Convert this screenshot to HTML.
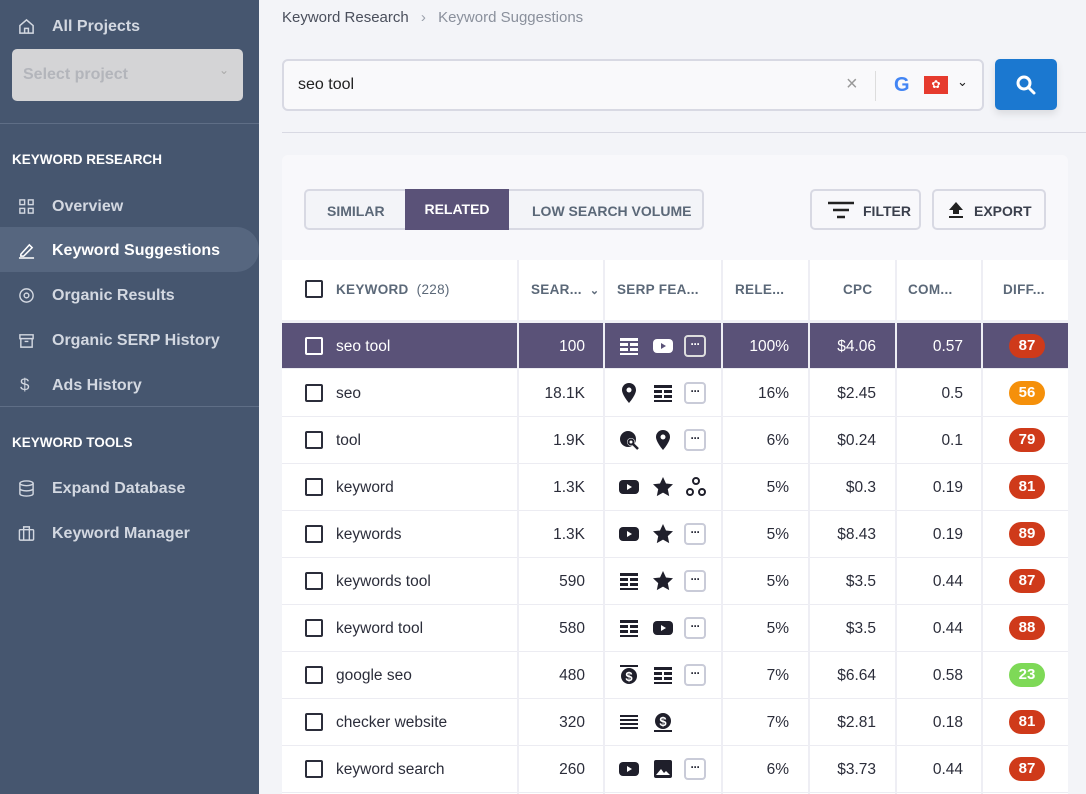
<!DOCTYPE html>
<html><head><meta charset="utf-8"><style>
*{box-sizing:border-box;margin:0;padding:0}
body{width:1086px;height:794px;overflow:hidden;background:#f3f4f8;font-family:"Liberation Sans",sans-serif;position:relative;color:#2b2d3a}
.a{position:absolute}
#sb{left:0;top:0;width:259px;height:794px;background:#46566f;color:#dfe3ea}
.ni{position:absolute;left:52px;font-size:16px;font-weight:bold;color:#d3d8e1;margin-top:2px}
.nic{position:absolute;left:18px;width:17px;height:17px;margin-top:1px}
.sec{position:absolute;left:12px;font-size:13.5px;font-weight:bold;color:#fff;margin-top:1px}
.hd{position:absolute;top:260px;height:60px;line-height:60px;font-size:13.5px;font-weight:bold;color:#5b6878;letter-spacing:.3px}
.vl{position:absolute;width:2px;background:#eeeef4}
.row{position:absolute;left:282px;width:786px;height:47px;background:#fff;border-bottom:1px solid #ececf2;font-size:15.5px}
.row span{position:absolute;top:0;line-height:48px}
.cb{position:absolute;left:23px;top:14px;width:18px;height:18px;border:2px solid #2b2d3a;border-radius:2px}
.kw{left:54px}
.r{text-align:right}
.b{position:absolute;left:727px;top:11px;width:36px;height:24px;border-radius:12px;color:#fff;font-weight:bold;font-size:15px;text-align:center;line-height:24px}
.ic{position:absolute;top:13px;width:20px;height:20px}
.mo{position:absolute;top:12px;left:402px;width:22px;height:22px;border:2px solid #c9cbd8;border-radius:4px;font-size:12px;line-height:14px;text-align:center;font-weight:bold;letter-spacing:-1px}
.sel{background:#5a5278;color:#fff;height:46px}
.sel .cb{border-color:#fff}
</style></head><body>
<div id="sb" class="a">
<svg class="nic" style="top:17px" viewBox="0 0 18 18"><path d="M2 8L9 2l7 6v8H2z M7 16v-5h4v5" fill="none" stroke="#d3d8e1" stroke-width="1.6"/></svg>
<div class="ni" style="top:16px">All Projects</div>
<div class="a" style="left:12px;top:49px;width:231px;height:52px;background:#d4d4d6;border-radius:5px"><span class="a" style="left:11px;top:17px;font-size:16px;font-weight:bold;color:#b3b5bb">Select project</span><span class="a" style="left:207px;top:14px;color:#aaa;font-size:12px">&#8964;</span></div>
<div class="a" style="left:0;top:123px;width:259px;height:1px;background:#5f6e86"></div>
<div class="sec" style="top:151px">KEYWORD RESEARCH</div>
<svg class="nic" style="top:197px" viewBox="0 0 18 18"><g fill="none" stroke="#d3d8e1" stroke-width="1.5"><rect x="2" y="2" width="5" height="5"/><rect x="11" y="2" width="5" height="5"/><rect x="2" y="11" width="5" height="5"/><rect x="11" y="11" width="5" height="5"/></g></svg>
<div class="ni" style="top:196px">Overview</div>
<div class="a" style="left:0;top:227px;width:259px;height:45px;background:#56667f;border-radius:0 23px 23px 0"></div>
<svg class="nic" style="top:241px" viewBox="0 0 18 18"><path d="M3 13L12 3l3 3-9 9H3z M1 17h16" fill="none" stroke="#fff" stroke-width="1.6"/></svg>
<div class="ni" style="top:240px;color:#fff">Keyword Suggestions</div>
<svg class="nic" style="top:286px" viewBox="0 0 18 18"><circle cx="9" cy="9" r="7" fill="none" stroke="#d3d8e1" stroke-width="1.5"/><circle cx="9" cy="9" r="2.5" fill="none" stroke="#d3d8e1" stroke-width="1.5"/></svg>
<div class="ni" style="top:285px">Organic Results</div>
<svg class="nic" style="top:331px" viewBox="0 0 18 18"><path d="M2 3h14v4H2z M3 7v9h12V7 M7 10h4" fill="none" stroke="#d3d8e1" stroke-width="1.5"/></svg>
<div class="ni" style="top:330px">Organic SERP History</div>
<div class="a" style="left:20px;top:375px;font-size:17px;color:#d3d8e1">$</div>
<div class="ni" style="top:375px">Ads History</div>
<div class="a" style="left:0;top:406px;width:259px;height:1px;background:#5f6e86"></div>
<div class="sec" style="top:434px">KEYWORD TOOLS</div>
<svg class="nic" style="top:479px" viewBox="0 0 18 18"><g fill="none" stroke="#d3d8e1" stroke-width="1.5"><ellipse cx="9" cy="3.5" rx="7" ry="2.5"/><path d="M2 3.5v11c0 1.4 3 2.5 7 2.5s7-1.1 7-2.5v-11 M2 9c0 1.4 3 2.5 7 2.5s7-1.1 7-2.5"/></g></svg>
<div class="ni" style="top:478px">Expand Database</div>
<svg class="nic" style="top:524px" viewBox="0 0 18 18"><g fill="none" stroke="#d3d8e1" stroke-width="1.5"><rect x="1.5" y="5" width="15" height="11" rx="1"/><path d="M6 5V2h6v3 M6 5v11 M12 5v11"/></g></svg>
<div class="ni" style="top:523px">Keyword Manager</div>
</div>

<div class="a" style="left:282px;top:9px;font-size:15px;color:#4a4f5c">Keyword Research <span style="color:#9aa0ab;margin:0 8px">&#8250;</span> <span style="color:#8a909c">Keyword Suggestions</span></div>
<div class="a" style="left:282px;top:59px;width:702px;height:52px;background:#f9f9fb;border:2px solid #d8d9e3;border-radius:6px">
<span class="a" style="left:14px;top:15px;font-size:16px;color:#222">seo tool</span>
<span class="a" style="left:562px;top:12px;font-size:20px;color:#999">&#215;</span>
<span class="a" style="left:591px;top:10px;width:1px;height:30px;background:#ddd"></span>
<span class="a" style="left:610px;top:13px;font-size:20px;font-weight:bold;color:#4285f4">G</span>
<span class="a" style="left:640px;top:15px;width:24px;height:18px;background:#e63b2e;color:#fff;font-size:11px;text-align:center;line-height:18px">&#10047;</span>
<span class="a" style="left:673px;top:13px;font-size:13px;color:#222">&#8964;</span>
</div>
<div class="a" style="left:995px;top:59px;width:62px;height:51px;background:#1b78d0;border-radius:5px;box-shadow:0 4px 8px rgba(0,0,0,.1)">
<svg class="a" style="left:20px;top:15px" width="22" height="22" viewBox="0 0 22 22"><circle cx="9" cy="9" r="6" fill="none" stroke="#fff" stroke-width="3"/><path d="M13.5 13.5L19 19" stroke="#fff" stroke-width="3" stroke-linecap="round"/></svg></div>
<div class="a" style="left:282px;top:132px;width:804px;height:1px;background:#d8d9e3"></div>

<div class="a" style="left:282px;top:155px;width:786px;height:639px;background:#f8f8fb;border-radius:6px 6px 0 0"></div>
<div class="a" style="left:304px;top:189px;width:400px;height:41px;border:2px solid #d8d9e3;border-radius:5px;background:#f3f4f8;font-size:14px;font-weight:bold;color:#5b6878">
<span class="a" style="left:21px;top:12px">SIMILAR</span>
<span class="a" style="left:99px;top:-2px;width:104px;height:41px;background:#5a5278;color:#fff;text-align:center;line-height:41px">RELATED</span>
<span class="a" style="left:226px;top:12px">LOW SEARCH VOLUME</span></div>
<div class="a" style="left:810px;top:189px;width:111px;height:41px;border:2px solid #d8d9e3;border-radius:5px;font-size:14px;font-weight:bold;color:#3a3f4c">
<svg class="a" style="left:16px;top:10px" width="26" height="20"><path d="M0 2h26M5 9h16M9 16h8" stroke="#222" stroke-width="2.5"/></svg><span class="a" style="left:51px;top:12px">FILTER</span></div>
<div class="a" style="left:932px;top:189px;width:114px;height:41px;border:2px solid #d8d9e3;border-radius:5px;font-size:14px;font-weight:bold;color:#3a3f4c">
<svg class="a" style="left:14px;top:11px" width="16" height="16"><path d="M8 0L15 8H11V12H5V8H1z M1 14h14v2H1z" fill="#222"/></svg><span class="a" style="left:40px;top:12px">EXPORT</span></div>

<div class="a" style="left:282px;top:260px;width:786px;height:534px;background:#fff"></div>
<div class="a" style="left:282px;top:320px;width:786px;height:3px;background:#f0f0f5"></div>
<div class="cb" style="left:305px;top:280px"></div>
<div class="hd" style="left:336px">KEYWORD <span style="font-weight:normal;margin-left:4px">(228)</span></div>
<div class="hd" style="left:531px">SEAR... <span style="font-size:11px;margin-left:4px">&#8964;</span></div>
<div class="hd" style="left:617px">SERP FEA...</div>
<div class="hd" style="left:735px">RELE...</div>
<div class="hd" style="left:843px">CPC</div>
<div class="hd" style="left:908px">COM...</div>
<div class="hd" style="left:1003px">DIFF...</div>

<svg width="0" height="0" style="position:absolute"><defs>
<g id="tbl"><path d="M1 2h18v3H1z M1 7h8v3H1z M11 7h8v3h-8z M1 12h8v3H1z M11 12h8v3h-8z M1 17h18v2H1z" /></g>
<g id="yt"><rect x="0" y="3" width="20" height="14" rx="4"/><path d="M8 7l5 3-5 3z" fill="#fff"/></g>
<g id="ytw"><rect x="0" y="3" width="20" height="14" rx="4" fill="#fff"/><path d="M8 7l5 3-5 3z" fill="#5a5278"/></g>
<g id="pin"><path d="M10 0a7 7 0 0 1 7 7c0 5-7 13-7 13S3 12 3 7a7 7 0 0 1 7-7z"/><circle cx="10" cy="7" r="2.5" fill="#fff"/></g>
<g id="star"><path d="M10 0l3 6.5 7 .8-5.2 4.8 1.4 7L10 15.6 3.8 19.1l1.4-7L0 7.3l7-.8z"/></g>
<g id="tri"><circle cx="10" cy="4" r="3" fill="none" stroke="#1f1f2b" stroke-width="2"/><circle cx="4" cy="15" r="3" fill="none" stroke="#1f1f2b" stroke-width="2"/><circle cx="16" cy="15" r="3" fill="none" stroke="#1f1f2b" stroke-width="2"/></g>
<g id="glob"><circle cx="9" cy="9" r="8"/><circle cx="12" cy="12" r="4" fill="#fff"/><circle cx="12" cy="12" r="2.5" fill="none" stroke="#1f1f2b" stroke-width="2"/><path d="M14 14l5 5" stroke="#1f1f2b" stroke-width="2.5"/></g>
<g id="dol"><circle cx="10" cy="9" r="8"/><text x="10" y="14" font-size="13" font-weight="bold" text-anchor="middle" fill="#fff" font-family="Liberation Sans">$</text><rect x="1" y="18" width="18" height="2"/></g>
<g id="dol2"><rect x="1" y="0" width="18" height="2"/><circle cx="10" cy="11" r="8"/><text x="10" y="16" font-size="13" font-weight="bold" text-anchor="middle" fill="#fff" font-family="Liberation Sans">$</text></g>
<g id="list"><path d="M1 3h18v2H1z M1 7h18v2H1z M1 11h18v2H1z M1 15h18v2H1z"/></g>
<g id="img"><rect x="1" y="1" width="18" height="18" rx="2"/><path d="M3 16l5-6 3 4 2-2 4 4z" fill="#fff"/></g>
</defs></svg>

<div class="row sel" style="top:323px">
<div class="cb"></div><span class="kw">seo tool</span><span class="r" style="right:483px">100</span>
<svg class="ic" style="left:337px;fill:#fff"><use href="#tbl"/></svg><svg class="ic" style="left:371px"><use href="#ytw"/></svg><div class="mo" style="border-color:#ddd;color:#fff">···</div>
<span class="r" style="right:279px">100%</span><span class="r" style="right:192px">$4.06</span><span class="r" style="right:105px">0.57</span>
<div class="b" style="background:#cf3a1a">87</div></div>

<div class="row" style="top:370px"><div class="cb"></div><span class="kw">seo</span><span class="r" style="right:483px">18.1K</span>
<svg class="ic" style="left:337px;fill:#1f1f2b"><use href="#pin"/></svg><svg class="ic" style="left:371px;fill:#1f1f2b"><use href="#tbl"/></svg><div class="mo">···</div>
<span class="r" style="right:279px">16%</span><span class="r" style="right:192px">$2.45</span><span class="r" style="right:105px">0.5</span><div class="b" style="background:#f5900a">56</div></div>

<div class="row" style="top:417px"><div class="cb"></div><span class="kw">tool</span><span class="r" style="right:483px">1.9K</span>
<svg class="ic" style="left:337px;fill:#1f1f2b"><use href="#glob"/></svg><svg class="ic" style="left:371px;fill:#1f1f2b"><use href="#pin"/></svg><div class="mo">···</div>
<span class="r" style="right:279px">6%</span><span class="r" style="right:192px">$0.24</span><span class="r" style="right:105px">0.1</span><div class="b" style="background:#cf3a1a">79</div></div>

<div class="row" style="top:464px"><div class="cb"></div><span class="kw">keyword</span><span class="r" style="right:483px">1.3K</span>
<svg class="ic" style="left:337px;fill:#1f1f2b"><use href="#yt"/></svg><svg class="ic" style="left:371px;fill:#1f1f2b"><use href="#star"/></svg><svg class="ic" style="left:404px;fill:none"><use href="#tri"/></svg>
<span class="r" style="right:279px">5%</span><span class="r" style="right:192px">$0.3</span><span class="r" style="right:105px">0.19</span><div class="b" style="background:#cf3a1a">81</div></div>

<div class="row" style="top:511px"><div class="cb"></div><span class="kw">keywords</span><span class="r" style="right:483px">1.3K</span>
<svg class="ic" style="left:337px;fill:#1f1f2b"><use href="#yt"/></svg><svg class="ic" style="left:371px;fill:#1f1f2b"><use href="#star"/></svg><div class="mo">···</div>
<span class="r" style="right:279px">5%</span><span class="r" style="right:192px">$8.43</span><span class="r" style="right:105px">0.19</span><div class="b" style="background:#cf3a1a">89</div></div>

<div class="row" style="top:558px"><div class="cb"></div><span class="kw">keywords tool</span><span class="r" style="right:483px">590</span>
<svg class="ic" style="left:337px;fill:#1f1f2b"><use href="#tbl"/></svg><svg class="ic" style="left:371px;fill:#1f1f2b"><use href="#star"/></svg><div class="mo">···</div>
<span class="r" style="right:279px">5%</span><span class="r" style="right:192px">$3.5</span><span class="r" style="right:105px">0.44</span><div class="b" style="background:#cf3a1a">87</div></div>

<div class="row" style="top:605px"><div class="cb"></div><span class="kw">keyword tool</span><span class="r" style="right:483px">580</span>
<svg class="ic" style="left:337px;fill:#1f1f2b"><use href="#tbl"/></svg><svg class="ic" style="left:371px;fill:#1f1f2b"><use href="#yt"/></svg><div class="mo">···</div>
<span class="r" style="right:279px">5%</span><span class="r" style="right:192px">$3.5</span><span class="r" style="right:105px">0.44</span><div class="b" style="background:#cf3a1a">88</div></div>

<div class="row" style="top:652px"><div class="cb"></div><span class="kw">google seo</span><span class="r" style="right:483px">480</span>
<svg class="ic" style="left:337px;fill:#1f1f2b"><use href="#dol2"/></svg><svg class="ic" style="left:371px;fill:#1f1f2b"><use href="#tbl"/></svg><div class="mo">···</div>
<span class="r" style="right:279px">7%</span><span class="r" style="right:192px">$6.64</span><span class="r" style="right:105px">0.58</span><div class="b" style="background:#7ed957">23</div></div>

<div class="row" style="top:699px"><div class="cb"></div><span class="kw">checker website</span><span class="r" style="right:483px">320</span>
<svg class="ic" style="left:337px;fill:#1f1f2b"><use href="#list"/></svg><svg class="ic" style="left:371px;fill:#1f1f2b"><use href="#dol"/></svg>
<span class="r" style="right:279px">7%</span><span class="r" style="right:192px">$2.81</span><span class="r" style="right:105px">0.18</span><div class="b" style="background:#cf3a1a">81</div></div>

<div class="row" style="top:746px"><div class="cb"></div><span class="kw">keyword search</span><span class="r" style="right:483px">260</span>
<svg class="ic" style="left:337px;fill:#1f1f2b"><use href="#yt"/></svg><svg class="ic" style="left:371px;fill:#1f1f2b"><use href="#img"/></svg><div class="mo">···</div>
<span class="r" style="right:279px">6%</span><span class="r" style="right:192px">$3.73</span><span class="r" style="right:105px">0.44</span><div class="b" style="background:#cf3a1a">87</div></div>

<div class="vl" style="left:517px;top:260px;height:534px"></div>
<div class="vl" style="left:603px;top:260px;height:534px"></div>
<div class="vl" style="left:721px;top:260px;height:534px"></div>
<div class="vl" style="left:808px;top:260px;height:534px"></div>
<div class="vl" style="left:895px;top:260px;height:534px"></div>
<div class="vl" style="left:981px;top:260px;height:534px"></div>
</body></html>
